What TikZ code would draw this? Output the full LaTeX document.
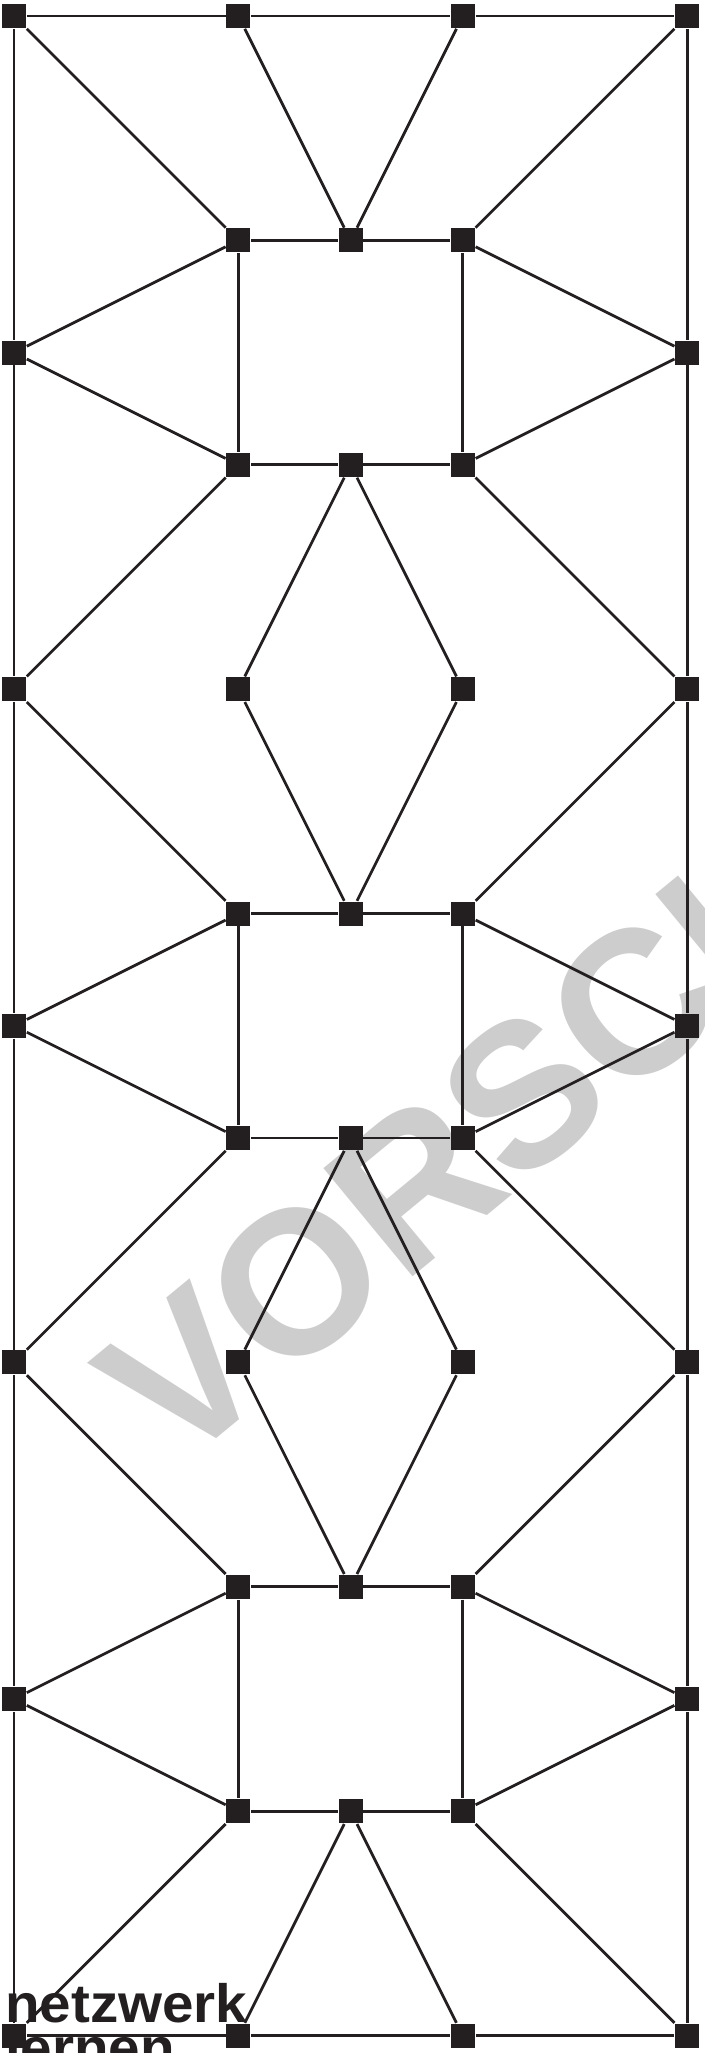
\documentclass[tikz,border=0pt]{standalone}
\usepackage{fontspec}
\newfontfamily\logofont{Liberation Sans}
\usetikzlibrary{positioning}
\definecolor{inkcolor}{RGB}{35,31,32}
\definecolor{wmcolor}{RGB}{205,205,205}
\tikzset{
  knotbox/.style={rectangle, fill=inkcolor, inner sep=0pt, minimum size=2.14mm},
  edgeln/.style={line width=0.7pt, inkcolor},
  wmtext/.style={wmcolor, rotate=39.5, anchor=base west, inner sep=0pt,
    font={\logofont\bfseries\fontsize{51.7pt}{52pt}\selectfont}},
  logotxt/.style={inkcolor, anchor=base west, inner sep=0pt, xscale=1.047,
    font={\logofont\bfseries\fontsize{13.7pt}{14pt}\selectfont}},
}

\begin{document}
\begin{tikzpicture}[x=1cm, y=-1cm]
    \useasboundingbox (-0.125,-0.143) rectangle (6.150,18.155);
    % Watermark behind the net
    \node[wmtext] (wm) at (1.430,12.986) {VORSCHAU};
    % Corner rows 0, 6, 12, 18
    \foreach \r in {0,6,12,18}
      \foreach \c in {0,2,4,6}
        \node[knotbox] (p-\c-\r) at (\c,\r) {};
    % Three identical blocks
    \foreach \t in {0,6,12} {
      \pgfmathtruncatemacro{\rowA}{\t+2}
      \pgfmathtruncatemacro{\rowM}{\t+3}
      \pgfmathtruncatemacro{\rowB}{\t+4}
      \pgfmathtruncatemacro{\rowE}{\t+6}
      \foreach \c in {2,3,4} {
        \node[knotbox] (p-\c-\rowA) at (\c,\rowA) {};
        \node[knotbox] (p-\c-\rowB) at (\c,\rowB) {};
      }
      \node[knotbox] (p-0-\rowM) at (0,\rowM) {};
      \node[knotbox] (p-6-\rowM) at (6,\rowM) {};
      % spokes from the upper row
      \draw[edgeln] (p-0-\t) -- (p-2-\rowA) (p-2-\t) -- (p-3-\rowA) -- (p-4-\t)
        (p-6-\t) -- (p-4-\rowA);
      % inner square
      \draw[edgeln] (p-2-\rowA) -- (p-3-\rowA) -- (p-4-\rowA) -- (p-4-\rowB)
        -- (p-3-\rowB) -- (p-2-\rowB) -- (p-2-\rowA);
      % side wedges
      \draw[edgeln] (p-2-\rowA) -- (p-0-\rowM) -- (p-2-\rowB)
        (p-4-\rowA) -- (p-6-\rowM) -- (p-4-\rowB);
      % spokes to the lower row
      \draw[edgeln] (p-2-\rowB) -- (p-0-\rowE) (p-2-\rowE) -- (p-3-\rowB) -- (p-4-\rowE)
        (p-4-\rowB) -- (p-6-\rowE);
      % outer frame, sides
      \draw[edgeln] (p-0-\t) -- (p-0-\rowM) -- (p-0-\rowE)
        (p-6-\t) -- (p-6-\rowM) -- (p-6-\rowE);
    }
    % Top and bottom rails
    \draw[edgeln] (p-0-0) -- (p-2-0) -- (p-4-0) -- (p-6-0);
    \draw[edgeln] (p-0-18) -- (p-2-18) -- (p-4-18) -- (p-6-18);
    % Logo
    \node[logotxt] (logo-a) at (-0.086,17.879) {netzwerk};
    \node[logotxt] (logo-b) at (-0.086,18.271) {lernen};
\end{tikzpicture}
\end{document}
